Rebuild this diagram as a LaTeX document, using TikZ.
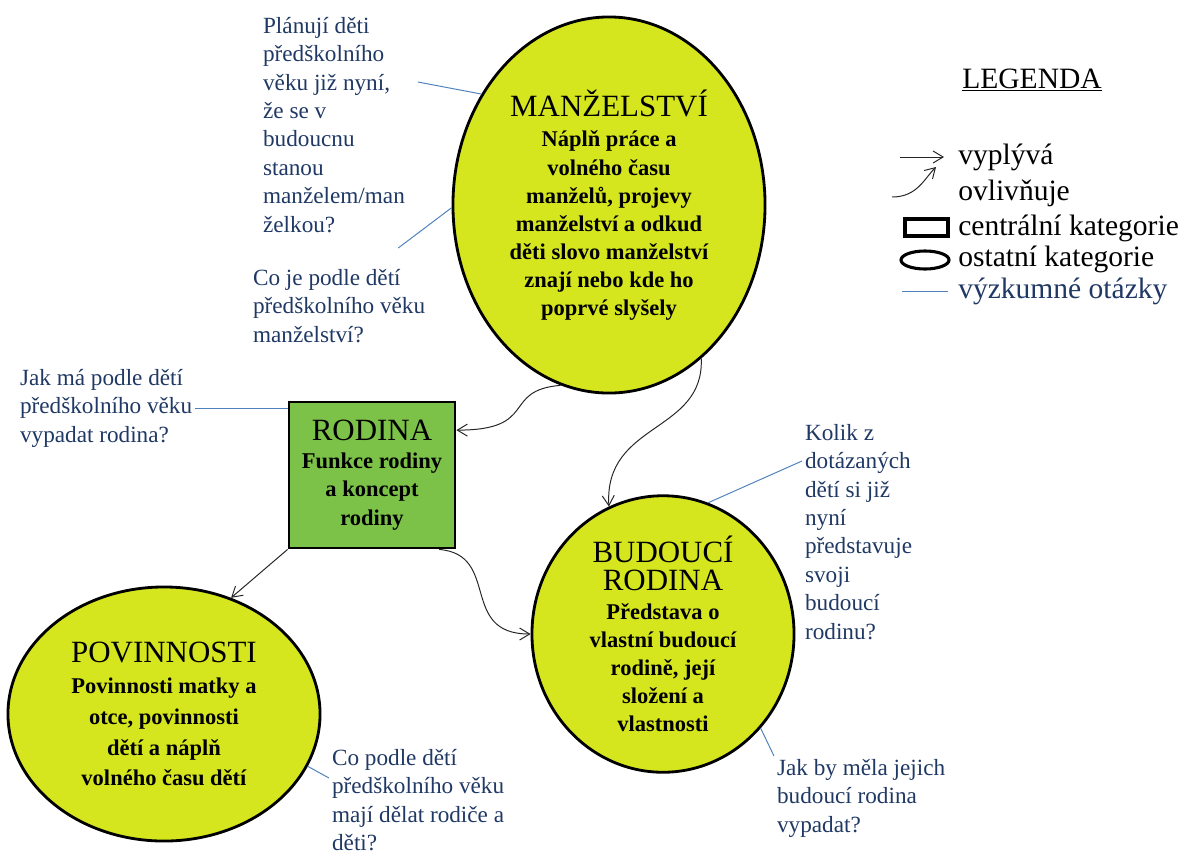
\documentclass[tikz,border=0pt]{standalone}
\usepackage{fontspec}
\setmainfont{Liberation Serif}
\usepackage{tikz}
\usetikzlibrary{shapes.geometric,arrows.meta,positioning}
\definecolor{catyellow}{RGB}{214,230,30}
\definecolor{catgreen}{RGB}{124,194,72}
\definecolor{qblue}{RGB}{31,56,100}
\definecolor{qline}{RGB}{79,129,189}
\newcommand{\cattitle}{\fontsize{22}{26}\selectfont\mdseries}
\newcommand{\catbody}{\fontsize{16}{20}\selectfont\bfseries}
\newcommand{\qtext}{\fontsize{16.5}{20.2}\selectfont}

\begin{document}
\begin{tikzpicture}[x=0.025cm,y=-0.025cm,
    cat/.style={draw=black,line width=2pt,fill=catyellow,ellipse,inner sep=0pt,
      align=center,font=\catbody},
    central/.style={draw=black,line width=2pt,fill=catgreen,rectangle,inner sep=0pt,
      align=center,font=\catbody},
    question/.style={anchor=north west,align=left,inner sep=2pt,text=qblue,font=\qtext},
    qlink/.style={qline,line width=0.7pt},
    conn/.style={line width=0.7pt,black!85,-{Straight Barb[length=2.5mm,width=3mm]}},
    legtext/.style={anchor=west,inner sep=0pt,font=\fontsize{21}{24}\selectfont}]
  \useasboundingbox (0,0) rectangle (1196,857);

  % Categories
  \node[cat,minimum width=7.8cm,minimum height=9.4cm] (manz) at (609,205)
    {{\cattitle MANŽELSTVÍ}\\[2pt] Náplň práce a\\ volného času\\ manželů, projevy\\
     manželství a odkud\\ děti slovo manželství\\ znají nebo kde ho\\ poprvé slyšely};
  \node[central,minimum width=4.15cm,minimum height=3.65cm] (rodina) at (372,475)
    {{\cattitle RODINA}\\ Funkce rodiny\\ a koncept\\ rodiny};
  \node[cat,minimum width=6.55cm,minimum height=6.3cm] (bud) at (663,634)
    {{\cattitle BUDOUCÍ}\\ {\cattitle RODINA}\\ Představa o\\ vlastní budoucí\\
     rodině, její\\ složení a\\ vlastnosti};
  \node[cat,minimum width=7.8cm,minimum height=6.35cm] (pov) at (164,714)
    {{\cattitle POVINNOSTI}\\[2pt] Povinnosti matky a\\[2pt] otce, povinnosti\\[2pt]
     dětí a náplň\\[2pt] volného času dětí};

  % Research questions
  \node[question] (q1) at (260,14) {Plánují děti\\ předškolního\\ věku již nyní,\\
    že se v\\ budoucnu\\ stanou\\ manželem/man\\ želkou?};
  \node[question] (q2) at (250,266) {Co je podle dětí\\ předškolního věku\\ manželství?};
  \node[question] (q3) at (17,366) {Jak má podle dětí\\ předškolního věku\\ vypadat rodina?};
  \node[question] (q4) at (802,421) {Kolik z\\ dotázaných\\ dětí si již\\ nyní\\
    představuje\\ svoji\\ budoucí\\ rodinu?};
  \node[question] (q5) at (774,756) {Jak by měla jejich\\ budoucí rodina\\ vypadat?};
  \node[question] (q6) at (329,746) {Co podle dětí\\ předškolního věku\\
    mají dělat rodiče a\\ děti?};

  \draw[qlink] ([shift={(10,68)}]q1.north east) -- (manz.139);
  \draw[qlink] ([shift={(-30,-18)}]q2.north east) -- (manz.181);
  \draw[qlink] (q3.east) -- (q3.east -| rodina.west);
  \draw[qlink] ([shift={(0,40)}]q4.north west) -- (bud.71);
  \draw[qlink] (q5.north west) -- (bud.-44);
  \draw[qlink] ([shift={(0,32)}]q6.north west) -- (pov.-20);

  % Arrows between categories
  \draw[conn] (manz.-105) .. controls +(-60,5) and +(83,0) .. (rodina.28);
  \draw[conn] (manz.-59) .. controls +(3,75) and +(-5,-85) .. (bud.113);
  \draw[conn] (rodina.south west) -- (pov.60);
  \draw[conn] (rodina.-48) .. controls +(62,5) and +(-72,0) .. (bud.180);

  % Legend
  \node[anchor=center,inner sep=0pt,font=\fontsize{21}{24}\selectfont] (leg) at (1032,80)
    {\underline{LEGENDA}};
  \node[legtext] (lvyp) at (958,157) {vyplývá};
  \node[legtext] (lovl) at (958,193) {ovlivňuje};
  \node[legtext] (lcen) at (958,228) {centrální kategorie};
  \node[legtext] (lost) at (958,259) {ostatní kategorie};
  \node[legtext,text=qblue] (lvyz) at (958,291) {výzkumné otázky};

  \draw[conn] ([shift={(-58,0)}]lvyp.west) -- ([shift={(-14,0)}]lvyp.west);
  \draw[conn] ([shift={(-66,4)}]lovl.west) .. controls +(25,0) and +(-12,12) ..
    ([shift={(-22,-26)}]lovl.west);
  \draw[line width=2.2pt] ([shift={(-53,-9)}]lcen.west) rectangle ([shift={(-10,8)}]lcen.west);
  \draw[line width=2.2pt] ([shift={(-33,1)}]lost.west) ellipse [x radius=24,y radius=9];
  \draw[qlink] ([shift={(-56,0)}]lvyz.west) -- ([shift={(-10,0)}]lvyz.west);
\end{tikzpicture}
\end{document}
